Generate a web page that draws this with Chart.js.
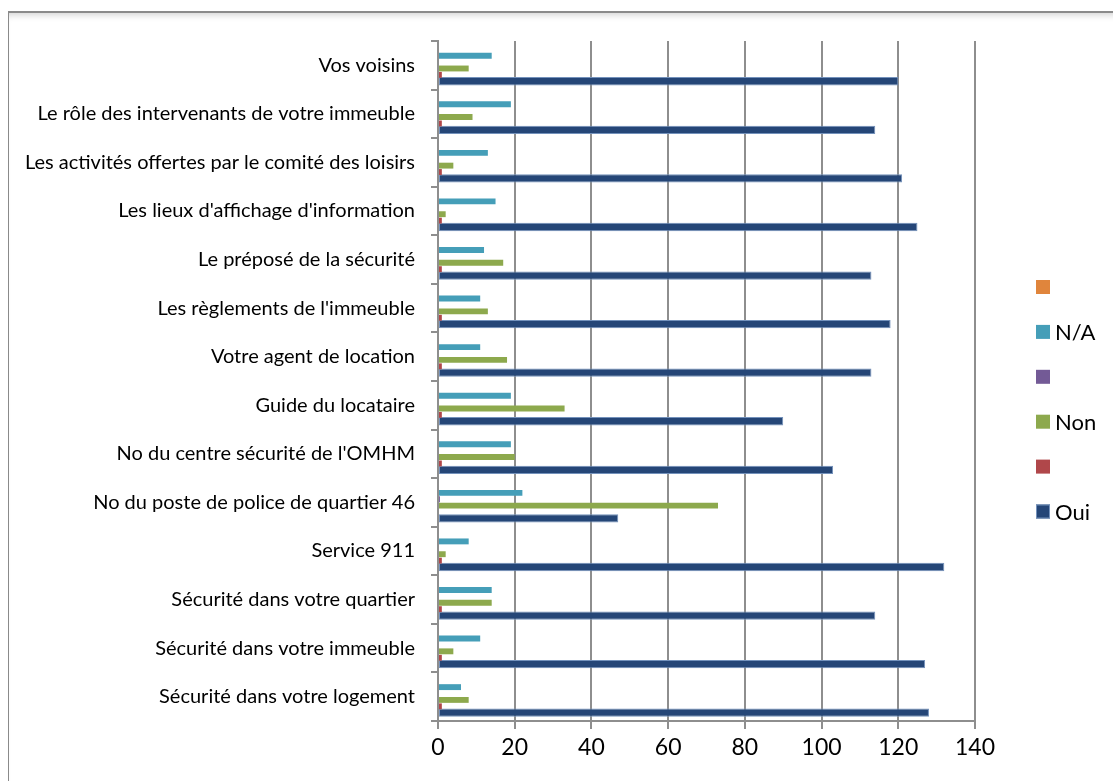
<!DOCTYPE html>
<html><head><meta charset="utf-8">
<script src="https://cdn.jsdelivr.net/npm/chart.js@4"></script>
<style>
html,body{margin:0;padding:0;background:#fff;}
#wrap{position:relative;width:1113px;height:781px;overflow:hidden;}
#frame{position:absolute;left:8px;top:11px;width:1110px;height:775px;border:1px solid #8a8a8a;border-top:2px solid #8a8a8a;box-shadow:inset 0 7px 7px -5px rgba(0,0,0,0.18);}
canvas{position:absolute;left:0;top:0;}
</style></head>
<body><div id="wrap"><div id="frame"></div><canvas id="c" width="1113" height="781"></canvas></div>
<script>
const categories = [
  "Vos voisins",
  "Le rôle des intervenants de votre immeuble",
  "Les activités offertes par le comité des loisirs",
  "Les lieux d'affichage d'information",
  "Le préposé de la sécurité",
  "Les règlements de l'immeuble",
  "Votre agent de location",
  "Guide du locataire",
  "No du centre sécurité de l'OMHM",
  "No du poste de police de quartier 46",
  "Service 911",
  "Sécurité dans votre quartier",
  "Sécurité dans votre immeuble",
  "Sécurité dans votre logement"
];
const xTicks = [0, 20, 40, 60, 80, 100, 120, 140];
const seriesOrange = [0,0,0,0,0,0,0,0,0,0,0,0,0,0];
const seriesNA     = [14,19,13,15,12,11,11,19,19,22,8,14,11,6];
const seriesPurple = [0,0,0,0,0,0,0,0,0,0.5,0,0,0,0];
const seriesNon    = [8,9,4,2,17,13,18,33,20,73,2,14,4,8];
const seriesRed    = [1,1,1,1,1,1,1,1,1,0,1,1,1,1];
const seriesOui    = [120,114,121,125,113,118,113,90,103,47,132,114,127,128];
const seriesLabels = ["", "N/A", "", "Non", "", "Oui"];

const FONT = "Lato, 'Liberation Sans', sans-serif";

const legendPlugin = {
  id: 'sideLegend',
  afterDraw(chart) {
    const ctx = chart.ctx;
    ctx.save();
    ctx.font = "22px " + FONT;
    ctx.textBaseline = 'middle';
    chart.data.datasets.forEach((ds, i) => {
      const yc = 287 + i * 44.9;
      ctx.fillStyle = ds.backgroundColor;
      ctx.fillRect(1036, yc - 7, 14, 14);
      if (ds.borderWidth) {
        ctx.strokeStyle = ds.borderColor;
        ctx.lineWidth = 1;
        ctx.strokeRect(1036.5, yc - 6.5, 13, 13);
      }
      ctx.fillStyle = '#000';
      ctx.fillText(ds.label, 1055, yc + 1);
    });
    ctx.restore();
  }
};

const colors = ['#E0853C', '#459EB8', '#735A96', '#8DA94D', '#B0474A', '#254677'];
const values = [seriesOrange, seriesNA, seriesPurple, seriesNon, seriesRed, seriesOui];

const datasets = values.map((v, i) => ({
  label: seriesLabels[i],
  data: v,
  backgroundColor: colors[i],
  borderColor: i === 5 ? '#7391BB' : colors[i],
  borderWidth: i === 5 ? 1 : 0,
  borderSkipped: false,
  barPercentage: i === 5 ? 1.3 : 0.92,
  categoryPercentage: 0.79
}));

new Chart(document.getElementById('c'), {
  type: 'bar',
  data: { labels: categories, datasets },
  plugins: [legendPlugin],
  options: {
    indexAxis: 'y',
    responsive: false,
    animation: false,
    layout: { padding: { left: 0, right: 138, top: 41, bottom: 0 } },
    plugins: { legend: { display: false }, tooltip: { enabled: false } },
    scales: {
      x: {
        min: 0, max: 140,
        afterBuildTicks(s) { s.ticks = xTicks.map(v => ({ value: v })); },
        ticks: { font: { family: FONT, size: 23 }, color: '#000', padding: 5 },
        grid: { color: '#8e8e8e', lineWidth: 2, tickLength: 8 },
        border: { color: '#8e8e8e', width: 2 },
        afterFit(s) { s.height = 60; }
      },
      y: {
        ticks: { font: { family: FONT, size: 20 }, color: '#000', padding: 16, autoSkip: false },
        grid: { drawOnChartArea: false, tickLength: 7, color: '#8e8e8e', lineWidth: 2, offset: true },
        border: { color: '#8e8e8e', width: 2 },
        afterFit(s) { s.width = 438; }
      }
    }
  }
});
</script>
</body></html>
